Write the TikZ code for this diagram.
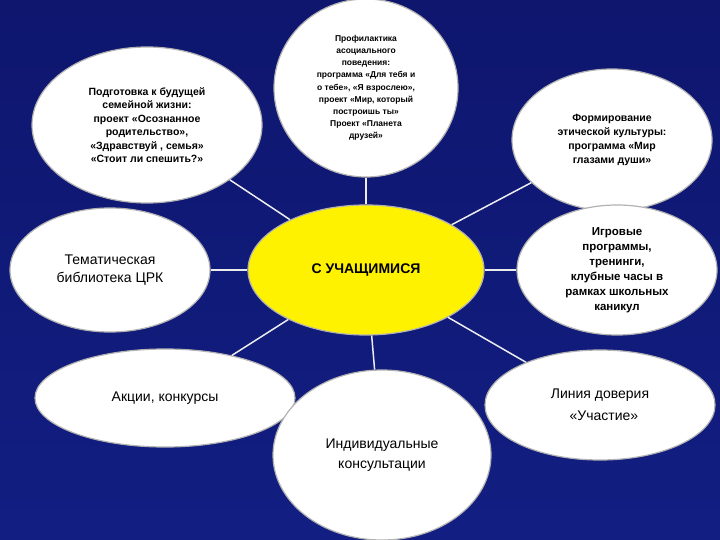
\documentclass[tikz,border=0pt]{standalone}
\usepackage{fontspec}
\setmainfont{Liberation Sans}
\usetikzlibrary{shapes.geometric}
\definecolor{bgt}{RGB}{14,22,110}
\definecolor{bgb}{RGB}{18,30,130}
\begin{document}
\begin{tikzpicture}[x=1pt,y=-1pt,
  bub/.style={ellipse,draw=gray!60,line width=1.2pt,fill=white,inner sep=0pt,align=center,text=black},
  con/.style={draw=white!85!gray,line width=1.5pt}]
\useasboundingbox (0,0) rectangle (720,540);
\shade[top color=bgt,bottom color=bgb] (0,0) rectangle (720,540);
\node[bub,minimum width=230,minimum height=156,font=\bfseries\fontsize{10.5}{13.5}\selectfont] (a) at (147,125) {Подготовка к будущей\\семейной жизни:\\проект «Осознанное\\родительство»,\\«Здравствуй , семья»\\«Стоит ли спешить?»};
\node[bub,minimum width=184,minimum height=178,font=\bfseries\fontsize{8.5}{12.2}\selectfont] (b) at (366,88) {Профилактика\\асоциального\\поведения:\\программа «Для тебя и\\о тебе», «Я взрослею»,\\проект «Мир, который\\построишь ты»\\Проект «Планета\\друзей»};
\node[bub,minimum width=200,minimum height=142,font=\bfseries\fontsize{10.5}{14}\selectfont] (c) at (612,140) {Формирование\\этической культуры:\\программа «Мир\\глазами души»};
\node[bub,minimum width=200,minimum height=124,font=\fontsize{14}{18}\selectfont] (d) at (110,270) {Тематическая\\библиотека ЦРК};
\node[ellipse,draw=gray!60,line width=1.2pt,fill=yellow,minimum width=236,minimum height=130,font=\bfseries\fontsize{14}{16}\selectfont] (m) at (366,270) {С УЧАЩИМИСЯ};
\node[bub,minimum width=200,minimum height=130,font=\bfseries\fontsize{11.5}{15}\selectfont] (e) at (617,270) {Игровые\\программы,\\тренинги,\\клубные часы в\\рамках школьных\\каникул};
\node[bub,minimum width=260,minimum height=98,font=\fontsize{14}{17}\selectfont] (f) at (165,398) {Акции, конкурсы};
\node[bub,minimum width=230,minimum height=110,font=\fontsize{14}{22}\selectfont] (g) at (600,405) {Линия доверия\\\ \ «Участие»};
\node[bub,minimum width=218,minimum height=170,font=\fontsize{14}{20}\selectfont] (h) at (382,455) {Индивидуальные\\консультации};
\foreach \n in {a,b,c,d,e,f,g,h} \draw[con] (m) -- (\n);
\end{tikzpicture}
\end{document}
